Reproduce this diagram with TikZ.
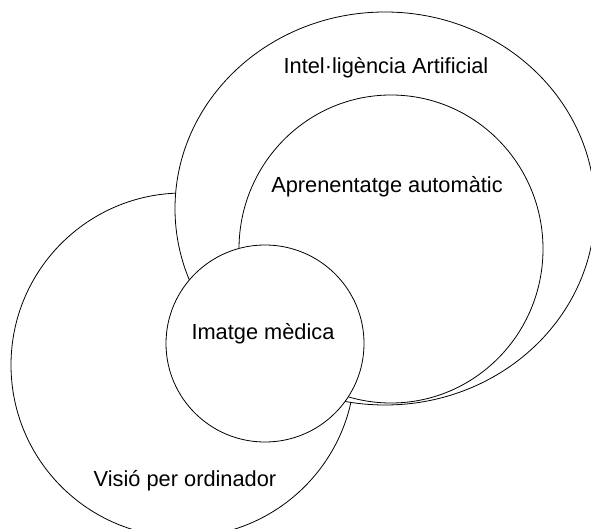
\documentclass[tikz,border=0pt]{standalone}
\usepackage{fontspec}
\setmainfont{Liberation Sans}
\usetikzlibrary{shapes.geometric}
\begin{document}
\begin{tikzpicture}[x=1bp,y=-1bp,
  set/.style={draw=black, fill=white, line width=0.8bp, ellipse, inner sep=0pt},
  setlabel/.style={anchor=base, inner sep=0pt, font=\fontsize{21.8bp}{26bp}\selectfont}]
  \useasboundingbox (0,0) rectangle (591,529);
  \clip (0,0) rectangle (591,529);
  % sets, back to front
  \node[set, minimum width=344bp, minimum height=344bp] (cv) at (183,365) {};
  \node[set, minimum width=420bp, minimum height=393bp] (ai) at (385,208.5) {};
  \node[set, minimum width=304bp, minimum height=308bp] (ml) at (391,249) {};
  \node[set, minimum width=198bp, minimum height=197bp] (mi) at (265,343.5) {};
  % labels
  \node[setlabel] (ailabel) at (386,73.5) {Intel·ligència Artificial};
  \node[setlabel] (mllabel) at (387,193) {Aprenentatge automàtic};
  \node[setlabel] (milabel) at (263,339) {Imatge mèdica};
  \node[setlabel] (cvlabel) at (185,486) {Visió per ordinador};
\end{tikzpicture}
\end{document}
